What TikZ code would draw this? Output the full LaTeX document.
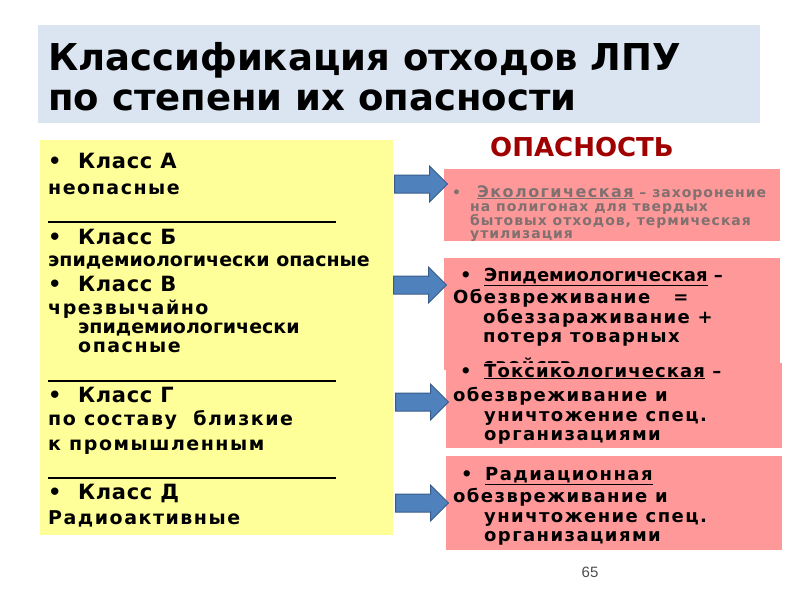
\documentclass[tikz,border=0pt]{standalone}
\usepackage{fontspec}
\setmainfont{DejaVu Sans}
\newfontfamily\pagefont{Liberation Sans}
\usetikzlibrary{shapes.arrows}
\usetikzlibrary{positioning}

\definecolor{titlebg}{RGB}{219,229,241}
\definecolor{classbg}{RGB}{255,255,153}
\definecolor{dangerbg}{RGB}{255,153,153}
\definecolor{arrowfill}{RGB}{79,129,189}
\definecolor{arrowline}{RGB}{56,93,138}
\definecolor{dangerred}{RGB}{160,0,0}
\definecolor{ecogray}{RGB}{128,112,112}

\newcommand{\itemdot}[1]{\makebox[#1][l]{\textbullet}}

\tikzstyle{block} = [anchor = north west, inner sep = 0pt, outer sep = 0pt]
\tikzstyle{line} = [anchor = base west, inner sep = 0pt]
\tikzstyle{ttl} = [line, font = \bfseries\fontsize{37}{37}\selectfont]
\tikzstyle{cls} = [line, font = \bfseries\fontsize{19}{19}\selectfont\addfontfeature{LetterSpace=8}]
\tikzstyle{clsflat} = [line, font = \bfseries\fontsize{19}{19}\selectfont]
\tikzstyle{clshead} = [line, font = \bfseries\fontsize{21}{21}\selectfont\addfontfeature{LetterSpace=3}]
\tikzstyle{dnghead} = [line, font = \bfseries\fontsize{18}{18}\selectfont]
\tikzstyle{dng} = [line, font = \bfseries\fontsize{18}{18}\selectfont\addfontfeature{LetterSpace=8}]
\tikzstyle{toxhead} = [line, font = \bfseries\fontsize{18}{18}\selectfont\addfontfeature{LetterSpace=6}]
\tikzstyle{eco} = [line, text = ecogray, font = \bfseries\fontsize{14}{14}\selectfont\addfontfeature{LetterSpace=7}]
\tikzstyle{redbox} = [block, fill = dangerbg, minimum width = 336pt]
\tikzstyle{rule} = [line width = 1.5pt]
\tikzstyle{blockarrow} = [single arrow, draw = arrowline, fill = arrowfill, line width = 1pt,
  anchor = tail, inner sep = 8.5pt, minimum height = 53pt, single arrow head extend = 9pt]

\begin{document}
\begin{tikzpicture}[x = 1pt, y = -1pt]
\useasboundingbox (0,0) rectangle (800,600);

% Title bar
\node[block, fill = titlebg, minimum width = 722pt, minimum height = 98pt] (title) at (38,25) {};
\node[ttl] (titleA) at (48,70) {Классификация отходов ЛПУ};
\node[ttl] (titleB) at (48,110) {по степени их опасности};

% Classes of waste
\node[block, fill = classbg, minimum width = 353pt, minimum height = 395pt] (classes) at (40,140) {};
\node[clshead] (clsA) at (48,168) {\itemdot{30pt}Класс А};
\node[cls] (clsAtxt) at (48,194) {неопасные};
\draw[rule] (48,222) -- (336,222);
\node[clshead] (clsB) at (48,244) {\itemdot{30pt}Класс Б};
\node[clsflat] (clsBtxt) at (48,266) {эпидемиологически опасные};
\node[clshead] (clsV) at (48,291) {\itemdot{30pt}Класс В};
\node[cls] (clsVtxt) at (48,314) {чрезвычайно};
\node[clsflat] (clsVtxt2) at (78,333) {эпидемиологически};
\node[cls] (clsVtxt3) at (78,352) {опасные};
\draw[rule] (48,381) -- (336,381);
\node[clshead] (clsG) at (48,402) {\itemdot{30pt}Класс Г};
\node[cls] (clsGtxt) at (48,425) {по составу\ \ близкие};
\node[cls] (clsGtxt2) at (48,450) {к промышленным};
\draw[rule] (48,478) -- (336,478);
\node[clshead] (clsD) at (48,499) {\itemdot{30pt}Класс Д};
\node[cls] (clsDtxt) at (48,524) {Радиоактивные};

% Danger header
\node[anchor = base, inner sep = 0pt, text = dangerred, font = \bfseries\fontsize{26}{26}\selectfont] (danger) at (582,156) {ОПАСНОСТЬ};

% Ecological
\node[redbox, minimum height = 72pt] (eco) at (444,169) {};
\node[eco] (ecoA) at (452,197) {\itemdot{25pt}\underline{\fontsize{16}{16}\selectfont\addfontfeature{LetterSpace=9}Экологическая} –~захоронение};
\node[eco] (ecoB) at (470,211) {на полигонах для твердых};
\node[eco] (ecoC) at (470,225) {бытовых отходов, термическая};
\node[eco] (ecoD) at (470,238) {утилизация};

% Epidemiological
\node[redbox, minimum height = 112pt] (epid) at (444,258) {};
\node[dnghead] (epidA) at (460,281) {\itemdot{24pt}\underline{Эпидемиологическая} –};
\node[dng] (epidB) at (453,303) {Обезвреживание\ \ \ =};
\node[dng] (epidC) at (483,323) {обеззараживание +};
\node[dng] (epidD) at (483,342) {потеря товарных};
\node[dng] (epidE) at (483,371) {свойств};

% Toxicological
\node[redbox, minimum height = 85pt] (toxic) at (446,363) {};
\node[toxhead] (toxicA) at (460,377) {\itemdot{24pt}\underline{Токсикологическая} –};
\node[dng] (toxicB) at (453,401) {обезвреживание и};
\node[dng] (toxicC) at (484,421) {уничтожение спец.};
\node[dng] (toxicD) at (484,440) {организациями};

% Radiation
\node[redbox, minimum height = 94pt] (radio) at (446,456) {};
\node[dng] (radioA) at (461,480) {\itemdot{24pt}\underline{Радиационная}};
\node[dng] (radioB) at (453,502) {обезвреживание и};
\node[dng] (radioC) at (484,522) {уничтожение спец.};
\node[dng] (radioD) at (484,541) {организациями};

% Arrows from classes to dangers
\node[blockarrow] (arrEco) at (394,184) {};
\node[blockarrow] (arrEpid) at (393,285) {};
\node[blockarrow] (arrToxic) at (395,402) {};
\node[blockarrow] (arrRadio) at (395,503) {};

% Page number
\node[anchor = base, inner sep = 0pt, text = black!70, font = \pagefont\fontsize{15}{15}\selectfont] (page) at (590,577) {65};
\end{tikzpicture}
\end{document}
